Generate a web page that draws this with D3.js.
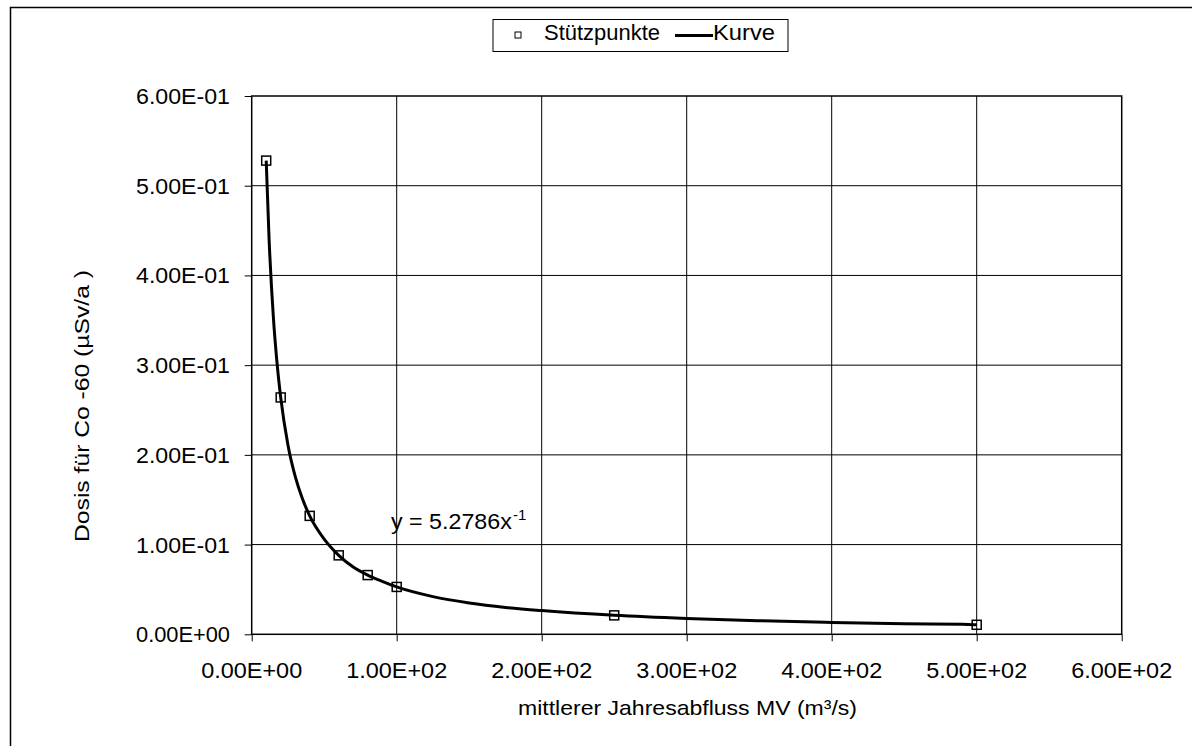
<!DOCTYPE html>
<html><head><meta charset="utf-8">
<script src="https://cdn.jsdelivr.net/npm/d3@7"></script>
<style>
html,body{margin:0;padding:0;background:#fff;}
text{font-family:"Liberation Sans",Arial,sans-serif;fill:#000;}
</style></head>
<body>
<svg id="chart" width="1192" height="746"></svg>
<script>
// Data
const pointX = [10, 20, 40, 60, 80, 100, 250, 500];
const pointY = [0.528, 0.264, 0.132, 0.088, 0.066, 0.0528, 0.0211, 0.0106];
const curveX = [10, 12, 15, 17.5, 20, 25, 30, 35, 40, 50, 60, 70, 80, 90, 100, 125, 150, 175, 200, 250, 300, 350, 400, 450, 490, 500];
const curveY = [0.528, 0.44, 0.352, 0.302, 0.264, 0.211, 0.176, 0.151, 0.132, 0.106, 0.088, 0.075, 0.066, 0.059, 0.0528, 0.042, 0.035, 0.030, 0.0264, 0.0211, 0.0176, 0.0151, 0.0132, 0.0117, 0.0113, 0.0106];
const xTicks = [0, 100, 200, 300, 400, 500, 600];
const yTicks = [0, 0.1, 0.2, 0.3, 0.4, 0.5, 0.6];
const xTickLabels = ["0.00E+00", "1.00E+02", "2.00E+02", "3.00E+02", "4.00E+02", "5.00E+02", "6.00E+02"];
const yTickLabels = ["0.00E+00", "1.00E-01", "2.00E-01", "3.00E-01", "4.00E-01", "5.00E-01", "6.00E-01"];
const seriesNames = ["Stützpunkte", "Kurve"];
const xTitle = "mittlerer Jahresabfluss MV (m³/s)";
const yTitle = "Dosis für Co -60 (µSv/a )";
const equation = ["y = 5.2786x", "-1"];
const eqPos = [96, 0.117];

const svg = d3.select("#chart");
const L = 251.7, R = 1121.7, T = 96, B = 634.3;
const x = d3.scaleLinear().domain([0, 600]).range([L, R]);
const y = d3.scaleLinear().domain([0, 0.6]).range([B, T]);

// outer frame
svg.append("rect").attr("x", 10.5).attr("y", 7.5).attr("width", 1300).attr("height", 1000)
  .attr("fill", "none").attr("stroke", "#000").attr("stroke-width", 1.5);

// grid
svg.append("g").selectAll("line").data(xTicks.slice(1, -1)).join("line")
  .attr("x1", d => x(d)).attr("x2", d => x(d)).attr("y1", T).attr("y2", B)
  .attr("stroke", "#000").attr("stroke-width", 1);
svg.append("g").selectAll("line").data(yTicks.slice(1, -1)).join("line")
  .attr("x1", L).attr("x2", R).attr("y1", d => y(d)).attr("y2", d => y(d))
  .attr("stroke", "#000").attr("stroke-width", 1);

// axes (tick marks)
const gx = svg.append("g").attr("transform", `translate(0,${B})`)
  .call(d3.axisBottom(x).tickValues(xTicks).tickSize(7).tickSizeOuter(0).tickFormat(""));
const gy = svg.append("g").attr("transform", `translate(${L},0)`)
  .call(d3.axisLeft(y).tickValues(yTicks).tickSize(7).tickSizeOuter(0).tickFormat(""));
[gx, gy].forEach(g => {
  g.select(".domain").remove();
  g.selectAll("line").attr("stroke", "#000").attr("stroke-width", 1);
});

// tick labels
svg.append("g").selectAll("text").data(xTicks).join("text")
  .attr("x", d => x(d)).attr("y", 678).attr("text-anchor", "middle")
  .attr("font-size", 22.5).attr("textLength", 101).attr("lengthAdjust", "spacingAndGlyphs")
  .text((d, i) => xTickLabels[i]);
svg.append("g").selectAll("text").data(yTicks).join("text")
  .attr("x", 230).attr("y", d => y(d) + 8).attr("text-anchor", "end")
  .attr("font-size", 22.5).attr("textLength", 94).attr("lengthAdjust", "spacingAndGlyphs")
  .text((d, i) => yTickLabels[i]);

// plot border
svg.append("rect").attr("x", L).attr("y", T).attr("width", R - L).attr("height", B - T)
  .attr("fill", "none").attr("stroke", "#000").attr("stroke-width", 1.5);

// curve
const curveData = curveX.map((v, i) => [v, curveY[i]]);
svg.append("path").datum(curveData)
  .attr("d", d3.line().x(d => x(d[0])).y(d => y(d[1])).curve(d3.curveMonotoneX))
  .attr("fill", "none").attr("stroke", "#000").attr("stroke-width", 3);

// markers
const ms = 9;
svg.append("g").selectAll("rect").data(pointX.map((v, i) => [v, pointY[i]])).join("rect")
  .attr("x", d => x(d[0]) - ms / 2).attr("y", d => y(d[1]) - ms / 2)
  .attr("width", ms).attr("height", ms)
  .attr("fill", "none").attr("stroke", "#000").attr("stroke-width", 1.5);

// equation
svg.append("text").attr("x", x(eqPos[0])).attr("y", 529)
  .attr("font-size", 22).attr("textLength", 121).attr("lengthAdjust", "spacingAndGlyphs")
  .text(equation[0]);
svg.append("text").attr("x", x(eqPos[0]) + 122).attr("y", 520)
  .attr("font-size", 15).text(equation[1]);

// axis titles
svg.append("text").attr("x", 687.5).attr("y", 715).attr("text-anchor", "middle")
  .attr("font-size", 21).attr("textLength", 339).attr("lengthAdjust", "spacingAndGlyphs")
  .text(xTitle);
svg.append("text").attr("transform", "translate(89,406) rotate(-90)").attr("text-anchor", "middle")
  .attr("font-size", 21).attr("textLength", 272).attr("lengthAdjust", "spacingAndGlyphs")
  .text(yTitle);

// legend
const lg = svg.append("g");
lg.append("rect").attr("x", 493).attr("y", 19.5).attr("width", 295).attr("height", 32)
  .attr("fill", "#fff").attr("stroke", "#000").attr("stroke-width", 1);
lg.append("rect").attr("x", 518 - 3).attr("y", 35 - 3).attr("width", 6).attr("height", 6)
  .attr("fill", "none").attr("stroke", "#000").attr("stroke-width", 1);
lg.append("text").attr("x", 544).attr("y", 40).attr("font-size", 22)
  .attr("textLength", 116).attr("lengthAdjust", "spacingAndGlyphs").text(seriesNames[0]);
lg.append("line").attr("x1", 675).attr("x2", 713).attr("y1", 35.5).attr("y2", 35.5)
  .attr("stroke", "#000").attr("stroke-width", 3);
lg.append("text").attr("x", 713).attr("y", 40).attr("font-size", 22)
  .attr("textLength", 62).attr("lengthAdjust", "spacingAndGlyphs").text(seriesNames[1]);
</script>
</body></html>
